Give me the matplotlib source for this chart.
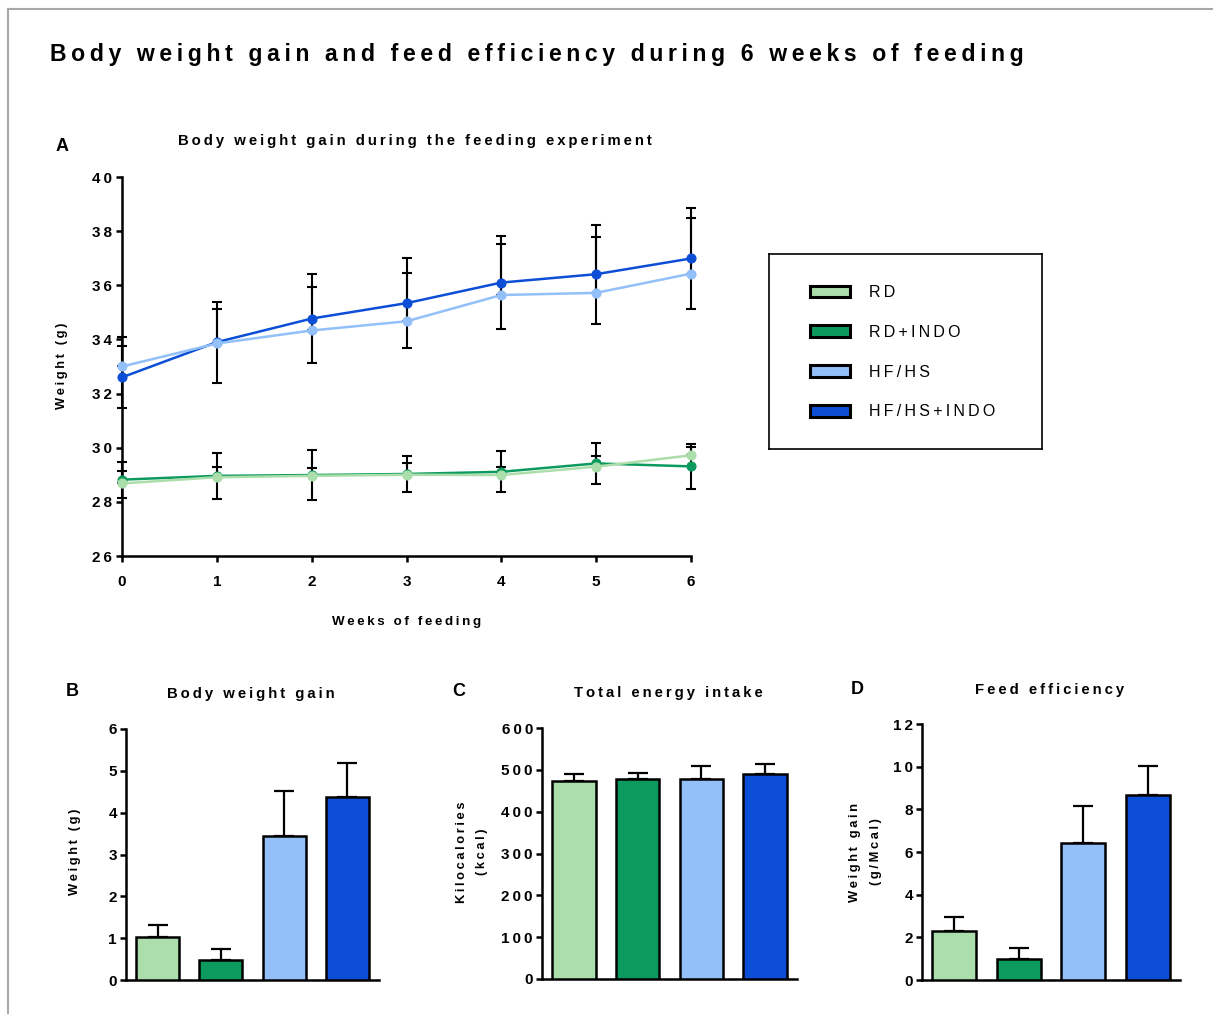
import matplotlib
matplotlib.use('Agg')
import matplotlib.pyplot as plt
from matplotlib.patches import Patch

plt.rcParams['font.family'] = ['Liberation Sans', 'DejaVu Sans']

# data
weeks = [0, 1, 2, 3, 4, 5, 6]
groups = ['RD', 'RD+INDO', 'HF/HS', 'HF/HS+INDO']
colors = ['#acdeab', '#0d9a5f', '#93c0f8', '#0c4fd6']

rd_mean = [28.68, 28.91, 28.96, 29.00, 28.99, 29.30, 29.72]
rd_err = [0.46, 0.39, 0.30, 0.44, 0.31, 0.40, 0.31]
rdi_mean = [28.82, 28.96, 28.99, 29.03, 29.11, 29.42, 29.31]
rdi_err = [0.66, 0.85, 0.93, 0.68, 0.76, 0.75, 0.83]
hf_mean = [33.00, 33.85, 34.33, 34.67, 35.64, 35.72, 36.43]
hf_err = [1.09, 1.26, 1.61, 1.79, 1.90, 2.07, 2.06]
hfi_mean = [32.60, 33.90, 34.77, 35.34, 36.10, 36.41, 36.99]
hfi_err = [1.15, 1.50, 1.64, 1.67, 1.71, 1.83, 1.86]

gain_mean = [1.02, 0.49, 3.44, 4.38]
gain_err = [0.29, 0.24, 1.08, 0.81]
energy_mean = [473, 477, 479, 490]
energy_err = [17, 16, 29, 24]
eff_mean = [2.28, 1.00, 6.44, 8.67]
eff_err = [0.66, 0.50, 1.73, 1.36]

W, H = 1213, 1014
SP = '\u2009'


def sp(s):
    # letter spaced text like the original
    return SP.join(s)


def px(x, y):
    return x / W, 1 - y / H


def box(l, t, r, b):
    return [l / W, 1 - b / H, (r - l) / W, (b - t) / H]


fig = plt.figure(figsize=(W / 100, H / 100), dpi=100)

# grey frame at top / left
fig.add_artist(plt.Line2D([8 / W, 8 / W], [0, 1 - 9 / H], transform=fig.transFigure, color='#a8a8a8', lw=1.5))
fig.add_artist(plt.Line2D([8 / W, 1], [1 - 9 / H, 1 - 9 / H], transform=fig.transFigure, color='#a8a8a8', lw=1.5))

fig.text(*px(50, 55), sp('Body weight gain and feed efficiency during 6 weeks of feeding'),
         fontsize=16.6, fontweight='bold', ha='left', va='center')

TICKFS = 11
LW = 1.8


def style(ax):
    for s in ['top', 'right']:
        ax.spines[s].set_visible(False)
    for s in ['left', 'bottom']:
        ax.spines[s].set_linewidth(LW)
    ax.tick_params(direction='out', width=LW, length=4.5, labelsize=TICKFS)
    for lab in ax.get_yticklabels() + ax.get_xticklabels():
        lab.set_fontweight('bold')


# ---- panel A
axA = fig.add_axes(box(122, 177, 691, 556))
series = [(hfi_mean, hfi_err, colors[3], True),
          (rdi_mean, rdi_err, colors[1], True),
          (hf_mean, hf_err, colors[2], False),
          (rd_mean, rd_err, colors[0], False)]
for m, e, c, both in series:
    yerr = e if both else [[0] * len(e), e]
    axA.errorbar(weeks, m, yerr=yerr, fmt='none', ecolor='black', elinewidth=1.5,
                 capsize=3.6, capthick=1.5, zorder=2, clip_on=False)
for m, e, c, both in series:
    axA.plot(weeks, m, color=c, lw=1.8, marker='o', ms=6.3, zorder=3, clip_on=False)
axA.set_xlim(0, 6)
axA.set_ylim(26, 40)
yt = list(range(26, 41, 2))
axA.set_yticks(yt)
axA.set_yticklabels([sp(str(v)) for v in yt])
axA.set_xticks(weeks)
axA.set_xticklabels([str(v) for v in weeks])
style(axA)
axA.tick_params(axis='y', pad=3)
axA.tick_params(axis='x', pad=9)

fig.text(*px(62, 146), 'A', fontsize=13, fontweight='bold', ha='center', va='center')
fig.text(*px(415, 141), sp('Body weight gain during the feeding experiment'),
         fontsize=10.7, fontweight='bold', ha='center', va='center')
fig.text(*px(407, 622), sp('Weeks of feeding'), fontsize=9.6, fontweight='bold', ha='center', va='center')
fig.text(*px(62, 366), sp('Weight (g)'), fontsize=9.3, fontweight='bold', ha='center', va='center', rotation=90)

# legend
axL = fig.add_axes(box(769, 254, 1042, 449))
axL.set_xticks([])
axL.set_yticks([])
for s in axL.spines.values():
    s.set_linewidth(1.2)
handles = [Patch(facecolor=c, edgecolor='black', lw=2.2) for c in colors]
axL.legend(handles, [sp(g) for g in groups], loc='upper left', bbox_to_anchor=(41 / 273, (449 - 285) / 195),
           frameon=False, fontsize=11.5, handlelength=2.5, handleheight=0.75, handletextpad=1.2,
           labelspacing=1.55, borderpad=0, borderaxespad=0)


# ---- bar panels
def bars(rect, means, errs, ymax, step, title, letter, ylabel, title_xy, letter_xy, ylab_x):
    ax = fig.add_axes(box(*rect))
    x = list(range(len(means)))
    ax.bar(x, means, width=0.68, color=colors, edgecolor='black', linewidth=LW, zorder=3)
    ax.errorbar(x, means, yerr=[[0] * len(errs), errs], fmt='none', ecolor='black',
                elinewidth=1.6, capsize=7.5, capthick=1.6, zorder=2)
    ax.set_xlim(-0.5, 3.5)
    ax.set_ylim(0, ymax)
    ticks = list(range(0, ymax + 1, step))
    ax.set_yticks(ticks)
    ax.set_yticklabels([sp(str(t)) for t in ticks])
    ax.set_xticks([])
    style(ax)
    ax.tick_params(axis='y', pad=2)
    fig.text(*px(*title_xy), sp(title), fontsize=10.7, fontweight='bold', ha='center', va='center')
    fig.text(*px(*letter_xy), letter, fontsize=13, fontweight='bold', ha='center', va='center')
    lines = ylabel.split('\n')
    for ln, lx in zip(lines, ylab_x):
        fig.text(*px(lx, 852), sp(ln), fontsize=9.3, fontweight='bold', ha='center', va='center', rotation=90)
    return ax


bars((126, 729, 379, 980), gain_mean, gain_err, 6, 1, 'Body weight gain', 'B', 'Weight (g)',
     (251, 694), (72, 692), [75])
bars((542, 728, 797, 979), energy_mean, energy_err, 600, 100, 'Total energy intake', 'C',
     'Kilocalories\n(kcal)', (668, 693), (459, 692), [462, 482])
bars((922, 724, 1180, 980), eff_mean, eff_err, 12, 2, 'Feed efficiency', 'D',
     'Weight gain\n(g/Mcal)', (1050, 690), (857, 690), [855, 876])

fig.savefig('out.png', dpi=100)
